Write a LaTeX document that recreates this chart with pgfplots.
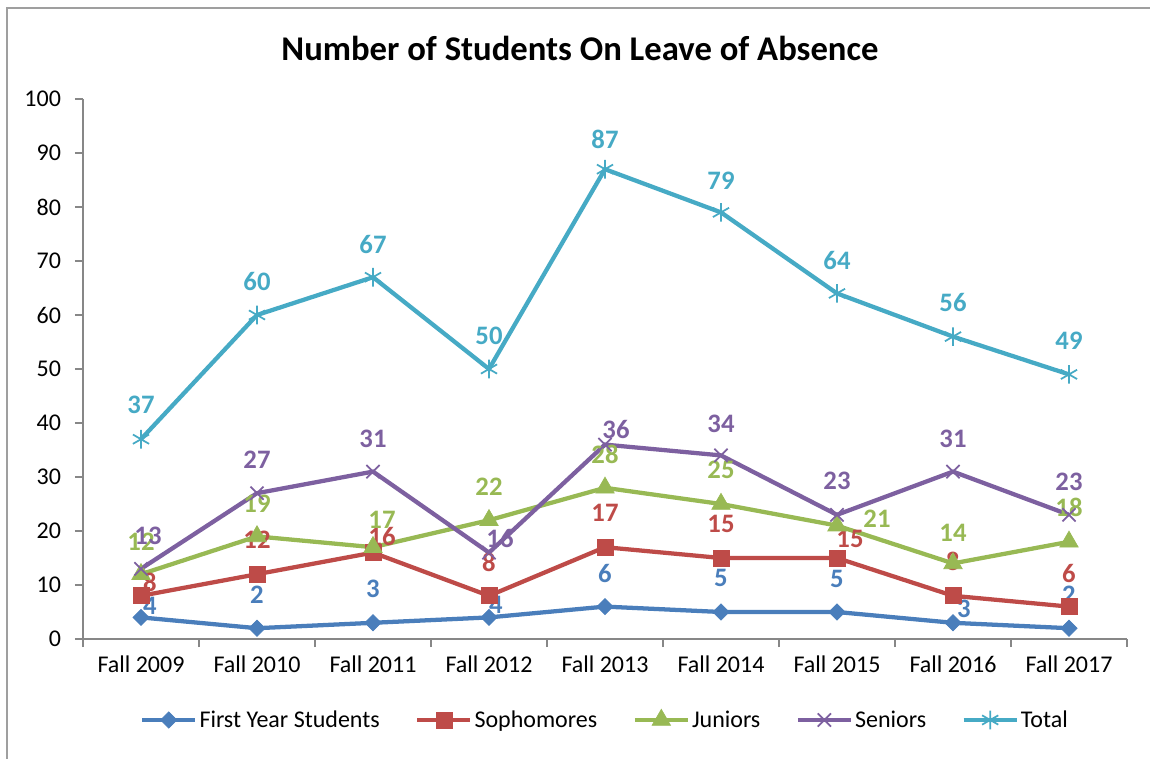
\documentclass[border=0pt]{standalone}
\usepackage{pgfplots}
\usepackage{pgfplotstable}
\usepackage{fontspec}
\setmainfont{Carlito}
\pgfplotsset{compat=1.18}
\definecolor{cBlue}{HTML}{4A7EBB}
\definecolor{cRed}{HTML}{BE4B48}
\definecolor{cGreen}{HTML}{98B954}
\definecolor{cPurple}{HTML}{7D60A0}
\definecolor{cTeal}{HTML}{46AAC5}
\definecolor{cAxis}{HTML}{878787}

% x = category index, y = value, dx/dy = label offset (px, up positive)
\pgfplotstableread{
x y dx dy
0 4 9 12
1 2 0 33
2 3 0 34
3 4 7 13
4 6 0 33
5 5 0 34
6 5 0 33
7 3 11 14
8 2 0 33
}\firstyear
\pgfplotstableread{
x y dx dy
0 8 9 13
1 12 0 34
2 16 9 16
3 8 0 33
4 17 0 34
5 15 0 34
6 15 13 19
7 8 0 34
8 6 0 33
}\sophomores
\pgfplotstableread{
x y dx dy
0 12 0 32
1 19 0 33
2 17 9 27
3 22 0 33
4 28 0 33
5 25 0 34
6 21 40 7
7 14 0 31
8 18 0 34
}\juniors
\pgfplotstableread{
x y dx dy
0 13 7 33
1 27 0 33
2 31 0 33
3 16 11 14
4 36 11 15
5 34 0 32
6 23 0 34
7 31 0 33
8 23 0 33
}\seniors
\pgfplotstableread{
x y dx dy
0 37 0 34
1 60 0 34
2 67 0 33
3 50 0 33
4 87 0 30
5 79 0 32
6 64 0 33
7 56 0 34
8 49 0 34
}\total

\begin{document}
\begin{tikzpicture}
\useasboundingbox (-62.25pt,-89.25pt) rectangle (800.25pt,479.25pt);
\draw[cAxis!80, line width=1.5pt] (-57pt,-95pt) -- (-57pt,473.25pt) -- (810pt,473.25pt);
\begin{axis}[
  at={(0,0)}, anchor=south west,
  scale only axis,
  width=783pt, height=405pt,
  xmin=-0.5, xmax=8.5, ymin=0, ymax=100,
  axis x line*=bottom, axis y line*=left,
  axis line style={cAxis, line width=0.9pt, -},
  tick align=outside,
  xtick={0,...,8},
  xticklabels={Fall 2009,Fall 2010,Fall 2011,Fall 2012,Fall 2013,Fall 2014,Fall 2015,Fall 2016,Fall 2017},
  major x tick style={draw=none},
  minor xtick={-0.5,0.5,...,8.5},
  minor tick length=6pt,
  minor x tick style={cAxis, line width=0.9pt},
  ytick={0,10,...,100},
  major tick length=6pt,
  major y tick style={cAxis, line width=0.9pt},
  tick label style={font=\fontsize{18}{20}\selectfont, black},
  yticklabel style={xshift=-7pt},
  xticklabel style={yshift=-3pt},
  /pgf/number format/assume math mode=true,
  title={Number of Students On Leave of Absence},
  title style={font=\fontsize{26}{30}\selectfont\bfseries, at={(0.5,1)}, anchor=center, yshift=32pt, xshift=-18.75pt},
  legend style={at={(0.5,-0.15)}, anchor=center, draw=none, fill=none,
    font=\fontsize{18}{20}\selectfont, legend columns=5,
    nodes={inner xsep=1.5pt},
    /tikz/every even column/.append style={column sep=25pt}},
  legend image code/.code={\draw[mark repeat=2, mark phase=2] plot coordinates {(0cm,0cm) (0.7cm,0cm) (1.4cm,0cm)};},
  legend cell align=left,
  visualization depends on={\thisrow{dx} \as \dx},
  visualization depends on={\thisrow{dy} \as \dy},
  nodes near coords,
  every node near coord/.append style={anchor=center, font=\fontsize{20}{22}\selectfont\bfseries, xshift={\dx*0.75pt}, yshift={\dy*0.75pt}},
  clip=false,
]
\addplot[cBlue, line width=3.2pt, mark=square*, mark size=4.3pt, mark options={rotate=45, line width=0.5pt}, every node near coord/.append style={text=cBlue}] table[x=x,y=y] {\firstyear};
\addlegendentry{First Year Students}
\addplot[cRed, line width=3.2pt, mark=square*, mark size=6pt, mark options={line width=0.5pt}, every node near coord/.append style={text=cRed}] table[x=x,y=y] {\sophomores};
\addlegendentry{Sophomores}
\addplot[cGreen, line width=3.2pt, mark=triangle*, mark size=8pt, mark options={line width=0.5pt}, every node near coord/.append style={text=cGreen}] table[x=x,y=y] {\juniors};
\addlegendentry{Juniors}
\addplot[cPurple, line width=3.2pt, mark=x, mark size=7pt, mark options={line width=1.3pt}, every node near coord/.append style={text=cPurple}] table[x=x,y=y] {\seniors};
\addlegendentry{Seniors}
\addplot[cTeal, line width=3.2pt, mark=asterisk, mark size=7pt, mark options={line width=1.3pt}, every node near coord/.append style={text=cTeal}] table[x=x,y=y] {\total};
\addlegendentry{Total}
\end{axis}
\end{tikzpicture}
\end{document}
